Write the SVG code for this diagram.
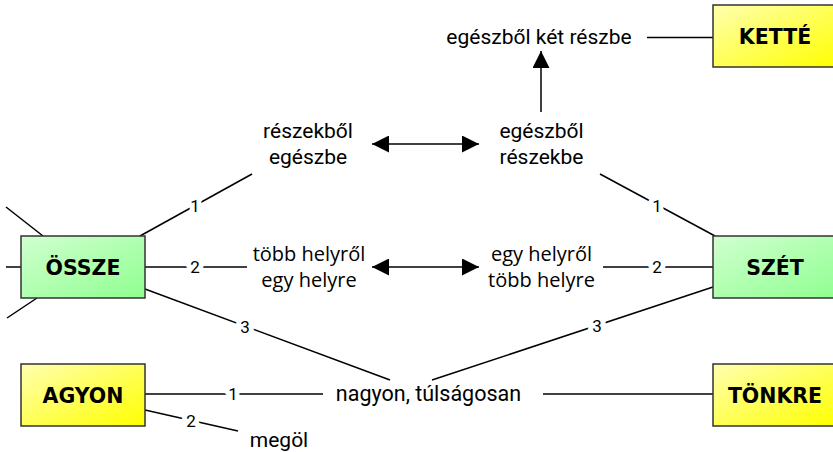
<svg xmlns="http://www.w3.org/2000/svg" width="833" height="452" viewBox="0 0 833 452">
<style>
.box{stroke:#333;stroke-width:1.5}
.bt{font-family:"DejaVu Sans",sans-serif;font-weight:bold;font-size:20.5px;fill:#000;text-anchor:middle}
.t{font-family:Roboto,"Liberation Sans",sans-serif;font-size:21px;fill:#000;text-anchor:middle}
.t2{font-family:"Open Sans","Noto Sans",sans-serif;font-size:20px;fill:#000;text-anchor:middle}
.ln{stroke:#000;stroke-width:1.5;fill:none}
.lb{font-family:Roboto,"Liberation Sans",sans-serif;font-size:17px;fill:#000;text-anchor:middle;stroke:#fff;stroke-width:10;paint-order:stroke;stroke-linejoin:round}
</style>
<defs>
<linearGradient id="gG" x1="0" y1="0" x2="1" y2="1"><stop offset="0" stop-color="#d0ffd0"/><stop offset="1" stop-color="#90ff90"/></linearGradient>
<linearGradient id="gY" x1="0" y1="0" x2="1" y2="1"><stop offset="0" stop-color="#ffffb0"/><stop offset="1" stop-color="#ffff00"/></linearGradient>
<marker id="ah" viewBox="0 0 10 10" refX="10" refY="5" markerWidth="17" markerHeight="17" markerUnits="userSpaceOnUse" orient="auto-start-reverse"><path d="M0,0 L10,5 L0,10 Z" fill="#000"/></marker>
</defs>
<g id="connectors">
<line class="ln" x1="6" y1="207" x2="43" y2="236"/>
<line class="ln" x1="6" y1="267" x2="21" y2="267"/>
<line class="ln" x1="7" y1="318" x2="37" y2="298"/>
<line class="ln" x1="140" y1="236" x2="252" y2="174"/>
<text class="lb" x="195" y="212">1</text>
<line class="ln" x1="145" y1="267" x2="247" y2="267"/>
<text class="lb" x="195" y="273">2</text>
<line class="ln" x1="145" y1="289" x2="390" y2="380"/>
<text class="lb" x="245" y="333">3</text>
<line class="ln" x1="600" y1="174" x2="715" y2="236"/>
<text class="lb" x="657" y="212">1</text>
<line class="ln" x1="603" y1="267" x2="713" y2="267"/>
<text class="lb" x="657" y="273">2</text>
<line class="ln" x1="713" y1="287" x2="432" y2="380"/>
<text class="lb" x="597" y="332">3</text>
<line class="ln" x1="145" y1="394" x2="323" y2="394"/>
<text class="lb" x="233" y="400">1</text>
<line class="ln" x1="145" y1="410" x2="238" y2="431"/>
<text class="lb" x="191" y="427">2</text>
<line class="ln" x1="543" y1="394" x2="713" y2="394"/>
<line class="ln" x1="647" y1="37.5" x2="713" y2="37.5"/>
<line class="ln" x1="541" y1="112" x2="541" y2="51" marker-end="url(#ah)"/>
<line class="ln" x1="372" y1="144" x2="479" y2="144" marker-start="url(#ah)" marker-end="url(#ah)"/>
<line class="ln" x1="372" y1="267" x2="479" y2="267" marker-start="url(#ah)" marker-end="url(#ah)"/>
</g>
<g id="osszo"><rect class="box" x="21" y="236" width="124" height="62" fill="url(#gG)"/><text class="bt" x="83" y="274.5">ÖSSZE</text></g>
<g id="szet"><rect class="box" x="713" y="236" width="124" height="62" fill="url(#gG)"/><text class="bt" x="775" y="274.5">SZÉT</text></g>
<g id="kette"><rect class="box" x="713" y="5" width="124" height="62" fill="url(#gY)"/><text class="bt" x="775" y="43.5">KETTÉ</text></g>
<g id="agyon"><rect class="box" x="21" y="364" width="124" height="62" fill="url(#gY)"/><text class="bt" x="83" y="402.5">AGYON</text></g>
<g id="tonkre"><rect class="box" x="713" y="364" width="124" height="62" fill="url(#gY)"/><text class="bt" x="775" y="402.5">TÖNKRE</text></g>
<g id="ketreszbe"><text class="t" x="539" y="44">egészből két részbe</text></g>
<g id="reszekbol"><text class="t" x="308" y="138">részekből</text><text class="t" x="308" y="164">egészbe</text></g>
<g id="egeszbol"><text class="t" x="541.5" y="138">egészből</text><text class="t" x="541.5" y="164">részekbe</text></g>
<g id="tobbhely"><text class="t2" x="309" y="261">több helyről</text><text class="t2" x="309" y="287">egy helyre</text></g>
<g id="egyhely"><text class="t2" x="541.5" y="261">egy helyről</text><text class="t2" x="541.5" y="287">több helyre</text></g>
<g id="nagyon"><text class="t" x="428.5" y="401" style="font-size:21.5px">nagyon, túlságosan</text></g>
<g id="megol"><text class="t" x="279" y="447">megöl</text></g>
</svg>
